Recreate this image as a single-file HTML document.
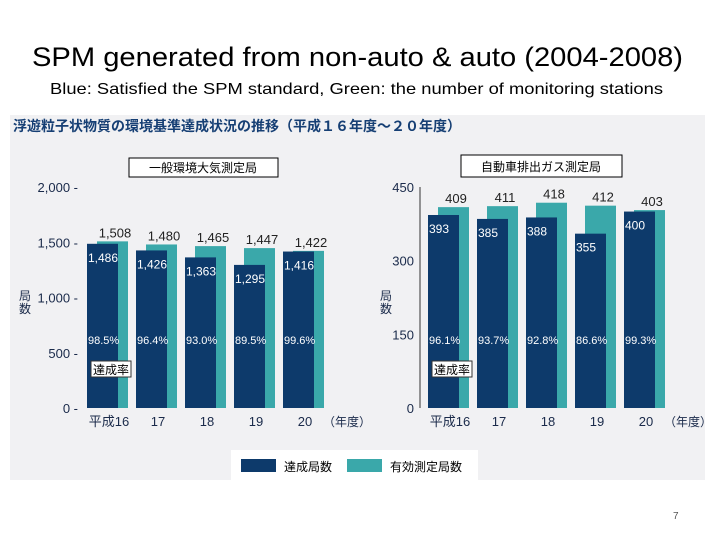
<!DOCTYPE html>
<html><head><meta charset="utf-8"><style>
body{margin:0;width:720px;height:540px;background:#fff;overflow:hidden;font-family:"Liberation Sans","Noto Sans CJK JP",sans-serif}
svg text{font-family:"Liberation Sans","Noto Sans CJK JP",sans-serif}
</style></head><body>
<svg id="s" width="720" height="540">
<text x="32" y="66" font-size="27" textLength="651" lengthAdjust="spacingAndGlyphs" fill="#000">SPM generated from non-auto &amp; auto  (2004-2008)</text>
<text x="50" y="94" font-size="16" textLength="613" lengthAdjust="spacingAndGlyphs" fill="#000">Blue: Satisfied the SPM standard, Green: the number of monitoring stations</text>
<rect x="10" y="115" width="695" height="365" fill="#f1f1f3"/>
<text x="13" y="131" font-size="14" font-weight="bold" fill="#163f74">浮遊粒子状物質の環境基準達成状況の推移（平成１６年度～２０年度）</text>
<rect x="129" y="158" width="149" height="19" fill="#fff" stroke="#000"/>
<text x="203" y="172" font-size="12" text-anchor="middle">一般環境大気測定局</text>
<rect x="461" y="155" width="161" height="22" fill="#fff" stroke="#000"/>
<text x="541" y="171" font-size="12" text-anchor="middle">自動車排出ガス測定局</text>
<g id="left"></g>
<g id="right"></g>
<rect x="231" y="450" width="247" height="30" fill="#fff"/>
<rect x="241" y="459" width="35" height="13" fill="#0d3a6b"/>
<text x="284" y="471" font-size="12">達成局数</text>
<rect x="347" y="459" width="35" height="13" fill="#3aa8aa"/>
<text x="390" y="471" font-size="12">有効測定局数</text>
<text x="673" y="519" font-size="10" fill="#555">7</text>
</svg>
<script>
const categories=["平成16","17","18","19","20"];
const leftAchieved=[1486,1426,1363,1295,1416];
const leftValid=[1508,1480,1465,1447,1422];
const leftRate=["98.5%","96.4%","93.0%","89.5%","99.6%"];
const leftTicks=[0,500,1000,1500,2000];
const rightAchieved=[393,385,388,355,400];
const rightValid=[409,411,418,412,403];
const rightRate=["96.1%","93.7%","92.8%","86.6%","99.3%"];
const rightTicks=[0,150,300,450];
const NS="http://www.w3.org/2000/svg";
function mk(p,t,a,txt){const e=document.createElementNS(NS,t);for(const k in a)e.setAttribute(k,a[k]);if(txt!=null)e.textContent=txt;p.appendChild(e);return e;}
function chart(g,x0,ymax,ticks,ach,val,rate,fmt,axisX,showLine){
  const y0=408,ytop=187;
  const y=v=>y0-(v/ymax)*(y0-ytop);
  const bx=i=>x0+i*49;
  if(showLine){const l=mk(g,'line',{x1:axisX,x2:axisX,y1:ytop,y2:y0,stroke:'#333'});}
  ticks.forEach(t=>{
    const e=mk(g,'text',{x:axisX-6,y:y(t)+5,'font-size':13,'text-anchor':'end',fill:'#1a2a4a'},fmt(t)+(showLine?'':' -'));
    
    
  });
  const yt=mk(g,'text',{x:axisX-(showLine?50:65)+ (showLine?10:0),y:300,'font-size':12,fill:'#1a2a4a'},'局');
  
  mk(g,'text',{x:axisX-(showLine?40:65),y:313,'font-size':12,fill:'#1a2a4a'},'数');
  categories.forEach((c,i)=>{
    const v=mk(g,'rect',{x:bx(i)+10,y:y(val[i]),width:31,height:y0-y(val[i]),fill:'#3aa8aa'});
    
    const a=mk(g,'rect',{x:bx(i),y:y(ach[i]),width:31,height:y0-y(ach[i]),fill:'#0d3a6b'});
    
    const vt=mk(g,'text',{x:bx(i)+28,y:y(val[i])-4,'font-size':13,'text-anchor':'middle',fill:'#222'},fmt(val[i]));
    
    const at=mk(g,'text',{x:bx(i)+1,y:y(ach[i])+18,'font-size':12,fill:'#fff'},fmt(ach[i]));
    
    const rt=mk(g,'text',{x:bx(i)+1,y:344,'font-size':11,fill:'#fff'},rate[i]);
    
    const xt=mk(g,'text',{x:bx(i)+22,y:426,'font-size':13,'text-anchor':'middle',fill:'#1a2a4a'},c);
    
  });
  const u=mk(g,'text',{x:bx(4)+40,y:426,'font-size':12,fill:'#1a2a4a'},'（年度）');
  
  const cb=mk(g,'rect',{x:x0+4,y:361,width:40,height:16,fill:'#fff',stroke:'#333'});
  
  mk(g,'text',{x:x0+6,y:374,'font-size':12,fill:'#000'},'達成率');
}
const f=v=>v.toLocaleString('en-US');
chart(document.getElementById('left'),87,2000,leftTicks,leftAchieved,leftValid,leftRate,f,84,false);
chart(document.getElementById('right'),428,450,rightTicks,rightAchieved,rightValid,rightRate,f,420,true);
</script>
</body></html>
